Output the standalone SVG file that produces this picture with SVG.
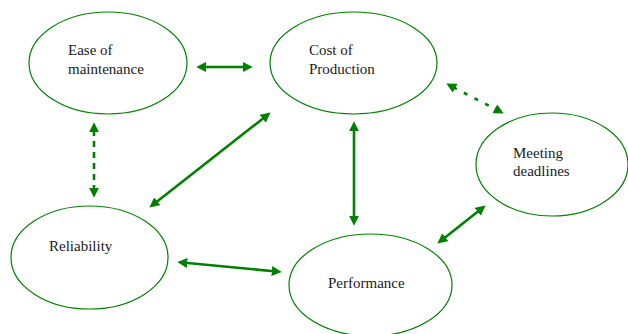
<svg xmlns="http://www.w3.org/2000/svg" width="628" height="334" viewBox="0 0 628 334">
<style>
.node ellipse{fill:#fff;stroke:#008000;stroke-width:1.2}
.node text{font-family:"Liberation Serif","Times New Roman",serif;font-size:15px;fill:#1a1a1a}
.conn line{stroke:#008000;stroke-width:2.6;fill:none;marker-start:url(#ah);marker-end:url(#ah)}
.conn .dash{stroke-dasharray:6 5}
.conn .dot{stroke-dasharray:4 8}
</style>
<defs>
<marker id="ah" markerUnits="userSpaceOnUse" markerWidth="10" markerHeight="10" viewBox="0 0 9 9" refX="2" refY="4.5" orient="auto-start-reverse">
<path d="M0,0 L9,4.5 L0,9 z" fill="#008000"/>
</marker>
</defs>
<rect width="628" height="334" fill="#fff"/>
<g id="n-ease" class="node"><ellipse cx="108" cy="63" rx="79" ry="51"/><text x="68" y="55">Ease of</text><text x="68" y="74">maintenance</text></g>
<g id="n-cost" class="node"><ellipse cx="353.5" cy="63" rx="83.5" ry="51"/><text x="309" y="55">Cost of</text><text x="309" y="74">Production</text></g>
<g id="n-meeting" class="node"><ellipse cx="552" cy="164.5" rx="76" ry="51.5"/><text x="513" y="158">Meeting</text><text x="513" y="176">deadlines</text></g>
<g id="n-reliability" class="node"><ellipse cx="89.5" cy="257.5" rx="78.5" ry="51.5"/><text x="49" y="251">Reliability</text></g>
<g id="n-performance" class="node"><ellipse cx="370.5" cy="285" rx="81.5" ry="51"/><text x="328" y="288">Performance</text></g>
<g id="connectors" class="conn">
<line x1="204" y1="67" x2="245" y2="67"/>
<line class="dash" x1="94" y1="130" x2="94" y2="190"/>
<line x1="264.5" y1="117.3" x2="155.5" y2="202.7"/>
<line x1="354" y1="129" x2="354" y2="218"/>
<line class="dot" x1="453.2" y1="87.2" x2="496.8" y2="109.8"/>
<line x1="185" y1="262.7" x2="274" y2="271.3"/>
<line x1="443.5" y1="238.7" x2="479.5" y2="210.3"/>
</g>
</svg>
